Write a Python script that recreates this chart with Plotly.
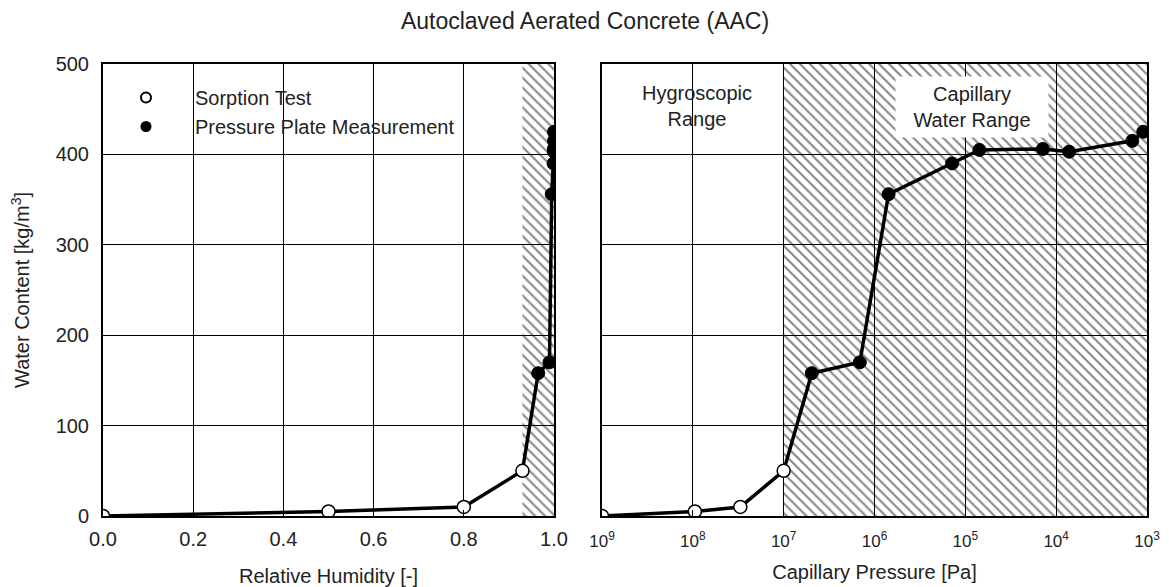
import plotly.graph_objects as go

# ---------------- data ----------------
sorption_rh = [0.0, 0.50, 0.80, 0.93]
sorption_pc = [1e9, 9.5e7, 3.0e7, 1.0e7]
sorption_wc = [0, 5, 10, 50]

plate_rh = [0.965, 0.990, 0.995, 0.999, 0.9995, 0.9999, 0.99995, 0.99999, 0.999995]
plate_pc = [4.9e6, 1.45e6, 7.0e5, 1.4e5, 7.0e4, 1.4e4, 7.2e3, 1.45e3, 1.1e3]
plate_wc = [158, 170, 356, 390, 405, 406, 403, 415, 425]

hygro_limit_rh = 0.93
hygro_limit_pc = 1e7
wc_max = 500
rh_max = 1.0
pc_min = 1e3

pc_tickvals = [1e9, 1e8, 1e7, 1e6, 1e5, 1e4, 1e3]
pc_ticktext = ["10<sup>9</sup>", "10<sup>8</sup>", "10<sup>7</sup>", "10<sup>6</sup>",
               "10<sup>5</sup>", "10<sup>4</sup>", "10<sup>3</sup>"]

FONT = "Liberation Sans, Arial, Helvetica, sans-serif"
TXT = "#222"

# the page body has an 8px margin; size the figure so it fits the 1169x587 window
OFF = 8
W, H = 1169 - OFF, 587 - OFF


def px_x(px):
    return (px - OFF) / W


def px_y(py):
    return 1 - (py - OFF) / H


fig = go.Figure()

pattern = dict(shape="\\", size=7, solidity=0.3, fgcolor="#111", bgcolor="rgba(0,0,0,0)")

# hatched regions
fig.add_trace(go.Scatter(
    x=[hygro_limit_rh, rh_max, rh_max, hygro_limit_rh, hygro_limit_rh],
    y=[0, 0, wc_max, wc_max, 0], mode="lines", fill="toself",
    fillcolor="rgba(0,0,0,0)", fillpattern=pattern,
    line=dict(width=0, color="rgba(0,0,0,0)"), showlegend=False, hoverinfo="skip",
    xaxis="x", yaxis="y"))
fig.add_trace(go.Scatter(
    x=[hygro_limit_pc, pc_min, pc_min, hygro_limit_pc, hygro_limit_pc],
    y=[0, 0, wc_max, wc_max, 0], mode="lines", fill="toself",
    fillcolor="rgba(0,0,0,0)", fillpattern=pattern,
    line=dict(width=0, color="rgba(0,0,0,0)"), showlegend=False, hoverinfo="skip",
    xaxis="x2", yaxis="y2"))

# connecting lines
fig.add_trace(go.Scatter(x=sorption_rh + plate_rh, y=sorption_wc + plate_wc, mode="lines",
                         line=dict(color="black", width=3.5), showlegend=False,
                         xaxis="x", yaxis="y"))
fig.add_trace(go.Scatter(x=sorption_pc + plate_pc, y=sorption_wc + plate_wc, mode="lines",
                         line=dict(color="black", width=3.5), showlegend=False,
                         xaxis="x2", yaxis="y2"))

open_marker = dict(symbol="circle", size=13, color="white", line=dict(color="black", width=1.5))
filled_marker = dict(symbol="circle", size=13, color="black", line=dict(color="black", width=1))

fig.add_trace(go.Scatter(x=sorption_rh, y=sorption_wc, mode="markers", marker=open_marker,
                         showlegend=False, xaxis="x", yaxis="y"))
fig.add_trace(go.Scatter(x=plate_rh, y=plate_wc, mode="markers", marker=filled_marker,
                         showlegend=False, xaxis="x", yaxis="y"))
fig.add_trace(go.Scatter(x=sorption_pc, y=sorption_wc, mode="markers", marker=open_marker,
                         showlegend=False, xaxis="x2", yaxis="y2"))
fig.add_trace(go.Scatter(x=plate_pc, y=plate_wc, mode="markers", marker=filled_marker,
                         showlegend=False, xaxis="x2", yaxis="y2"))

# legend entries (smaller symbols, as in the original key)
fig.add_trace(go.Scatter(x=[None], y=[None], mode="markers", name="Sorption Test",
                         marker=dict(symbol="circle", size=10, color="white",
                                     line=dict(color="black", width=2)),
                         xaxis="x", yaxis="y"))
fig.add_trace(go.Scatter(x=[None], y=[None], mode="markers", name="Pressure Plate Measurement",
                         marker=dict(symbol="circle", size=11, color="black"),
                         xaxis="x", yaxis="y"))

axis_common = dict(showline=True, linecolor="black", linewidth=2, mirror="allticks",
                   showgrid=True, gridcolor="black", gridwidth=1, zeroline=False,
                   ticks="inside", ticklen=6, tickcolor="black", automargin=False)

title_font = dict(family=FONT, size=20, color=TXT)
tick_font = dict(family=FONT, size=20, color=TXT)

y_dom = [px_y(516), px_y(64)]

fig.update_layout(
    width=W, height=H,
    margin=dict(l=0, r=0, t=0, b=0, autoexpand=False),
    paper_bgcolor="white", plot_bgcolor="white",
    font=dict(family=FONT, color=TXT),
    title=dict(text="Autoclaved Aerated Concrete (AAC)", x=px_x(585), xanchor="center",
               y=px_y(21), yanchor="middle", automargin=False,
               font=dict(family=FONT, size=23, color=TXT)),
    xaxis=dict(domain=[px_x(103), px_x(554)], range=[0, rh_max], dtick=0.2, tickformat=".1f",
               tickfont=tick_font, ticklabelstandoff=4,
               title=dict(text="Relative Humidity [-]", font=title_font, standoff=20),
               anchor="y", **axis_common),
    yaxis=dict(domain=y_dom, range=[0, wc_max], dtick=100,
               tickfont=tick_font, ticklabelstandoff=8,
               title=dict(text="Water Content [kg/m<sup>3</sup>]", font=title_font, standoff=30),
               anchor="x", **axis_common),
    xaxis2=dict(domain=[px_x(602), px_x(1147)], type="log", range=[9, 3],
                tickmode="array", tickvals=pc_tickvals, ticktext=pc_ticktext,
                tickfont=dict(family=FONT, size=17, color=TXT), ticklabelstandoff=9,
                title=dict(text="Capillary Pressure [Pa]", font=title_font, standoff=15),
                anchor="y2", **axis_common),
    yaxis2=dict(domain=y_dom, range=[0, wc_max], dtick=100,
                showticklabels=False, anchor="x2", **axis_common),
    legend=dict(x=px_x(97), y=px_y(78), xanchor="left", yanchor="top",
                bgcolor="rgba(0,0,0,0)", borderwidth=0, itemwidth=88,
                font=dict(family=FONT, size=20, color=TXT), tracegroupgap=0),
    showlegend=True,
)

# white panel behind the key (hides grid lines, as in the original)
fig.add_shape(type="rect", xref="paper", yref="paper",
              x0=px_x(120), x1=px_x(476), y0=px_y(139), y1=px_y(71),
              fillcolor="white", line=dict(width=0), layer="between")

fig.add_annotation(x=px_x(697), y=px_y(106), xref="paper", yref="paper",
                   xanchor="center", yanchor="middle",
                   text="Hygroscopic<br>Range", showarrow=False,
                   font=dict(family=FONT, size=20, color=TXT))
fig.add_annotation(x=px_x(972), y=px_y(107), xref="paper", yref="paper",
                   xanchor="center", yanchor="middle",
                   text="Capillary<br>Water Range", showarrow=False,
                   bgcolor="white", width=150, height=58,
                   font=dict(family=FONT, size=20, color=TXT))

fig.write_html("out.html")
